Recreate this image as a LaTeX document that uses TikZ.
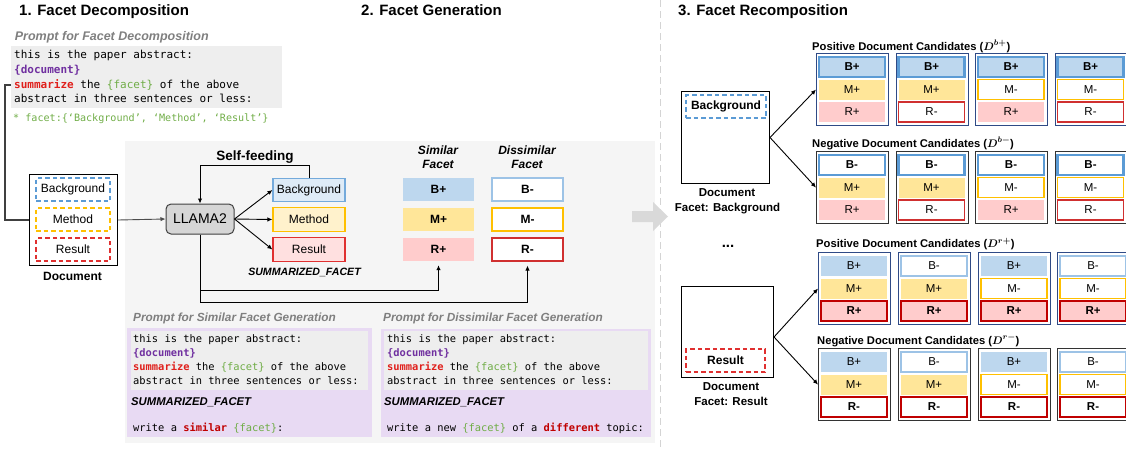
\documentclass[tikz,border=0pt]{standalone}
\usepackage{fontspec}
\setmainfont{Liberation Sans}
\newfontfamily\mono{DejaVu Sans Mono}
\usepackage{amsmath}
\usetikzlibrary{arrows.meta,calc}
\definecolor{bfill}{HTML}{BDD7EE}
\definecolor{mfill}{HTML}{FFE699}
\definecolor{rfill}{HTML}{FFCCCC}
\definecolor{bline}{HTML}{5B9BD5}
\definecolor{blight}{HTML}{9DC3E6}
\definecolor{mline}{HTML}{FFC000}
\definecolor{rline}{HTML}{D03030}
\definecolor{rdark}{HTML}{C00000}
\definecolor{posline}{HTML}{2F4A86}
\definecolor{negline}{HTML}{333333}
\definecolor{panel}{HTML}{F5F5F5}
\definecolor{pgray}{HTML}{EEEEEE}
\definecolor{purp}{HTML}{E8DAF3}
\definecolor{tpurple}{HTML}{7030A0}
\definecolor{tred}{HTML}{E0201C}
\definecolor{tdred}{HTML}{C00000}
\definecolor{tgreen}{HTML}{70AD47}
\definecolor{tgray}{HTML}{7F7F7F}
\definecolor{sbfill}{HTML}{DEEBF7}
\definecolor{smfill}{HTML}{FFF2CC}
\definecolor{srfill}{HTML}{FFE0E0}
\definecolor{dred}{HTML}{E03030}
\newcommand\cand[5]{%
  \node[cbox,#4,anchor=north west] (#1) at (#2,#3) {};
  \foreach \rs/\rt [count=\ri] in {#5}{%
    \node[crow,\rs] (#1-\ri) at ({#2+36},{#3+14+22.5*(\ri-1)}) {\rt};
  }%
}
\newcommand\dmath[1]{{\boldmath$\displaystyle #1$}}
\begin{document}
\begin{tikzpicture}[x=1pt,y=-1pt,
  title/.style={font=\fontsize{15}{18}\selectfont\bfseries, anchor=base west, inner sep=0},
  ptitle/.style={font=\fontsize{12.5}{15}\selectfont\bfseries\itshape, text=tgray, anchor=base west, inner sep=0},
  ptitleb/.style={font=\fontsize{11.8}{14}\selectfont\bfseries\itshape, text=tgray, anchor=base west, inner sep=0},
  mtext/.style={font=\mono\fontsize{11}{14}\selectfont, anchor=base west, inner sep=0},
  msmall/.style={font=\mono\fontsize{10.4}{14}\selectfont, anchor=base west, inner sep=0},
  sumf/.style={font=\fontsize{11.3}{14}\selectfont\bfseries\itshape, anchor=base west, inner sep=0},
  arr/.style={-{Latex[length=5pt,width=4.5pt]}, line width=0.9pt},
  dbox/.style={draw, dash pattern=on 4.5pt off 3pt, line width=1.6pt, minimum width=74, minimum height=23, inner sep=0, font=\fontsize{12}{14}\selectfont},
  sbox/.style={draw, line width=1.2pt, minimum width=72, minimum height=23.5, inner sep=0, font=\fontsize{12}{14}\selectfont},
  fbox/.style={minimum width=71, minimum height=23, inner sep=0, font=\fontsize{12}{14}\selectfont\bfseries},
  cbox/.style={draw, fill=white, minimum width=72, minimum height=72, inner sep=0, line width=1.1pt},
  poscand/.style={draw=posline},
  negcand/.style={draw=negline},
  crow/.style={minimum width=66, minimum height=20, inner sep=0, font=\fontsize{11.5}{13}\selectfont},
  Bp/.style={fill=bfill},
  Bm/.style={fill=white, draw=blight, line width=1.2pt},
  Mp/.style={fill=mfill},
  Mm/.style={fill=white, draw=mline, line width=1.2pt},
  Rp/.style={fill=rfill},
  Rm/.style={fill=white, draw=rline, line width=1.2pt},
  BpH/.style={fill=bfill, draw=bline, line width=2.5pt, font=\fontsize{11.5}{13}\selectfont\bfseries},
  BmH/.style={fill=white, draw=bline, line width=2.5pt, font=\fontsize{11.5}{13}\selectfont\bfseries},
  RpH/.style={fill=rfill, draw=rdark, line width=2.5pt, font=\fontsize{11.5}{13}\selectfont\bfseries},
  RmH/.style={fill=white, draw=rdark, line width=2.5pt, font=\fontsize{11.5}{13}\selectfont\bfseries},
  clabel/.style={font=\fontsize{11.2}{13}\selectfont\bfseries, anchor=base west, inner sep=0},
  blabel/.style={font=\fontsize{12}{14}\selectfont\bfseries, anchor=base, inner sep=0},
]
\useasboundingbox (0,0) rectangle (1126,448);
% panel and separator
\fill[panel] (125,141) rectangle (655,443);
\draw[black!17, dash pattern=on 7pt off 4pt, line width=1pt] (660,0) -- (660,448);

% titles
\node[title] (t1) at (19,15) {1. Facet Decomposition};
\node[title] (t2) at (361,15) {2. Facet Generation};
\node[title] (t3) at (678,15) {3. Facet Recomposition};

% ---------- Section 1 prompt
\node[ptitle] (pt1) at (14.7,40) {Prompt for Facet Decomposition};
\fill[pgray] (11,46) rectangle (282,108);
\coordinate (pstart) at (11,85);
\node[mtext] (l1) at (14,58.5) {this is the paper abstract:};
\node[mtext] (l2) at (14,73.5) {\color{tpurple}\bfseries\{document\}};
\node[mtext] (l3) at (14,88.5) {{\color{tred}\bfseries summarize} the {\color{tgreen}\{facet\}} of the above};
\node[mtext] (l4) at (14,102.7) {abstract in three sentences or less:};
\node[font=\mono\fontsize{10.1}{12}\selectfont, anchor=base west, inner sep=0, text=tgreen] (fl) at (13,121) {* facet:\{‘Background’, ‘Method’, ‘Result’\}};

% document
\node[draw, fill=white, line width=1pt, minimum width=88, minimum height=91, inner sep=0, anchor=north west] (doc) at (29,174) {};
\node[dbox, draw=bline] (dB) at (73,189.5) {Background};
\node[dbox, draw=mline] (dM) at (73,219.5) {Method};
\node[dbox, draw=dred] (dR) at (73,249.5) {Result};
\node[blabel] (docl) at (72.5,280) {Document};
\draw[black!75, line width=1.2pt] (pstart) -- (5,85) |- (doc.west);

% ---------- Section 2
\node[draw=black!75, fill=black!16, rounded corners=5pt, minimum width=68, minimum height=30, line width=1pt, inner sep=0, font=\fontsize{14}{16}\selectfont] (llm) at (200,219) {LLAMA2};
\draw[arr, black!70] (doc.east) -- (llm.west);
\node[sbox, draw=bline!85, fill=sbfill] (sB) at (309,190) {Background};
\node[sbox, draw=mline, fill=smfill] (sM) at (309,219.5) {Method};
\node[sbox, draw=dred, fill=srfill] (sR) at (309,249.5) {Result};
\draw[arr] (llm.east) -- (sB.west);
\draw[arr] (llm.east) -- (sM.west);
\draw[arr] (llm.east) -- (sR.west);
\draw[arr] (sB.north) -- ++(0,-12) -| (llm.north);
\node[font=\fontsize{13.5}{16}\selectfont\bfseries, anchor=base, inner sep=0] (sf) at (255,160) {Self-feeding};
\node[font=\fontsize{10.6}{13}\selectfont\bfseries\itshape, anchor=base, inner sep=0] (smf) at (304.5,275.3) {SUMMARIZED\_FACET};

\node[font=\fontsize{12}{14}\selectfont\bfseries\itshape, anchor=base, inner sep=0] (sh1) at (438,154) {Similar};
\node[font=\fontsize{12}{14}\selectfont\bfseries\itshape, anchor=base, inner sep=0] (sh2) at (438,168) {Facet};
\node[font=\fontsize{12}{14}\selectfont\bfseries\itshape, anchor=base, inner sep=0] (dh1) at (527,154) {Dissimilar};
\node[font=\fontsize{12}{14}\selectfont\bfseries\itshape, anchor=base, inner sep=0] (dh2) at (527,168) {Facet};
\node[fbox, fill=bfill] (bp) at (438.5,189.5) {B+};
\node[fbox, fill=mfill] (mp) at (438.5,219.5) {M+};
\node[fbox, fill=rfill] (rp) at (438.5,249.5) {R+};
\node[fbox, fill=white, draw=blight, line width=1.2pt] (bm) at (527.5,189.5) {B-};
\node[fbox, fill=white, draw=mline, line width=1.2pt] (mm) at (527.5,219.5) {M-};
\node[fbox, fill=white, draw=rline, line width=1.2pt] (rm) at (527.5,249.5) {R-};
\draw[arr, shorten >=4pt] (llm.south) |- (rp.south |- 0,290) -- (rp.south);
\draw[arr, shorten >=4pt] (llm.south) |- (rm.south |- 0,302) -- (rm.south);

% bottom prompts
\node[ptitleb] (pt2) at (133,321.5) {Prompt for Similar Facet Generation};
\fill[purp] (127,328) rectangle (372,437);
\fill[pgray] (131,331) rectangle (368,390);
\node[msmall] (a1) at (133,342.7) {this is the paper abstract:};
\node[msmall] (a2) at (133,356.7) {\color{tpurple}\bfseries\{document\}};
\node[msmall] (a3) at (133,370.7) {{\color{tred}\bfseries summarize} the {\color{tgreen}\{facet\}} of the above};
\node[msmall] (a4) at (133,384.5) {abstract in three sentences or less:};
\node[sumf] (a5) at (131,405.7) {SUMMARIZED\_FACET};
\node[msmall] (a6) at (133,431.7) {write a {\color{tdred}\bfseries similar} {\color{tgreen}\{facet\}}:};

\node[ptitleb] (pt3) at (383,321) {Prompt for Dissimilar Facet Generation};
\fill[purp] (381,329) rectangle (651,437);
\fill[pgray] (384,331) rectangle (648,390);
\node[msmall] (b1) at (387,342.7) {this is the paper abstract:};
\node[msmall] (b2) at (387,356.7) {\color{tpurple}\bfseries\{document\}};
\node[msmall] (b3) at (387,370.7) {{\color{tred}\bfseries summarize} the {\color{tgreen}\{facet\}} of the above};
\node[msmall] (b4) at (387,384.5) {abstract in three sentences or less:};
\node[sumf] (b5) at (384,405.7) {SUMMARIZED\_FACET};
\node[msmall] (b6) at (387,431.7) {write a new {\color{tgreen}\{facet\}} of a {\color{tdred}\bfseries different} topic:};

% big gray arrow
\fill[black!15] (632,211) -- (653,211) -- (653,202) -- (668,216.5) -- (653,231) -- (653,222) -- (632,222) -- cycle;

% ---------- Section 3
\node[draw, fill=white, line width=1pt, minimum width=88, minimum height=92, inner sep=0, anchor=north west] (docb) at (681,91) {};
\node[dbox, draw=bline, minimum width=80, font=\fontsize{12}{14}\selectfont\bfseries] (docbB) at (726,106.5) {Background};
\node[blabel, font=\fontsize{11.5}{14}\selectfont\bfseries] (docbl1) at (727,196.7) {Document};
\node[blabel, font=\fontsize{11.5}{14}\selectfont\bfseries] (docbl2) at (727.5,211.7) {Facet: Background};

\node[clabel] (lpb) at (812,50) {Positive Document Candidates (\dmath{D^{b+}})};
\node[clabel] (lnb) at (812,147) {Negative Document Candidates (\dmath{D^{b-}})};
\cand{pb1}{816}{53}{poscand}{BpH/B+,Mp/M+,Rp/R+}
\cand{pb2}{895.5}{53}{poscand}{BpH/B+,Mp/M+,Rm/R-}
\cand{pb3}{975}{53}{poscand}{BpH/B+,Mm/M-,Rp/R+}
\cand{pb4}{1054.5}{53}{poscand}{BpH/B+,Mm/M-,Rm/R-}
\cand{nb1}{816}{151}{negcand}{BmH/B-,Mp/M+,Rp/R+}
\cand{nb2}{895.5}{151}{negcand}{BmH/B-,Mp/M+,Rm/R-}
\cand{nb3}{975}{151}{negcand}{BmH/B-,Mm/M-,Rp/R+}
\cand{nb4}{1054.5}{151}{negcand}{BmH/B-,Mm/M-,Rm/R-}
\draw[arr] (docb.east) -- (pb1.west);
\draw[arr] (docb.east) -- (nb1.west);

\node[font=\fontsize{15}{18}\selectfont\bfseries, anchor=base, inner sep=0] (dots) at (728,247) {...};

\node[draw, fill=white, line width=1pt, minimum width=92, minimum height=91, inner sep=0, anchor=north west] (docr) at (681,286) {};
\node[dbox, draw=dred, minimum width=79, font=\fontsize{12}{14}\selectfont\bfseries] (docrR) at (725.5,360.5) {Result};
\node[blabel, font=\fontsize{11.5}{14}\selectfont\bfseries] (docrl1) at (731,390) {Document};
\node[blabel, font=\fontsize{11.5}{14}\selectfont\bfseries] (docrl2) at (731,405) {Facet: Result};

\node[clabel] (lpr) at (816,247.7) {Positive Document Candidates (\dmath{D^{r+}})};
\node[clabel] (lnr) at (817,344) {Negative Document Candidates (\dmath{D^{r-}})};
\cand{pr1}{818}{252}{poscand}{Bp/B+,Mp/M+,RpH/R+}
\cand{pr2}{898}{252}{poscand}{Bm/B-,Mp/M+,RpH/R+}
\cand{pr3}{978}{252}{poscand}{Bp/B+,Mm/M-,RpH/R+}
\cand{pr4}{1057}{252}{poscand}{Bm/B-,Mm/M-,RpH/R+}
\cand{nr1}{818}{348}{negcand}{Bp/B+,Mp/M+,RmH/R-}
\cand{nr2}{898}{348}{negcand}{Bm/B-,Mp/M+,RmH/R-}
\cand{nr3}{978}{348}{negcand}{Bp/B+,Mm/M-,RmH/R-}
\cand{nr4}{1057}{348}{negcand}{Bm/B-,Mm/M-,RmH/R-}
\draw[arr] ($(docr.east)+(0,5)$) -- (pr1.west);
\draw[arr] ($(docr.east)+(0,5)$) -- (nr1.west);
\end{tikzpicture}
\end{document}
